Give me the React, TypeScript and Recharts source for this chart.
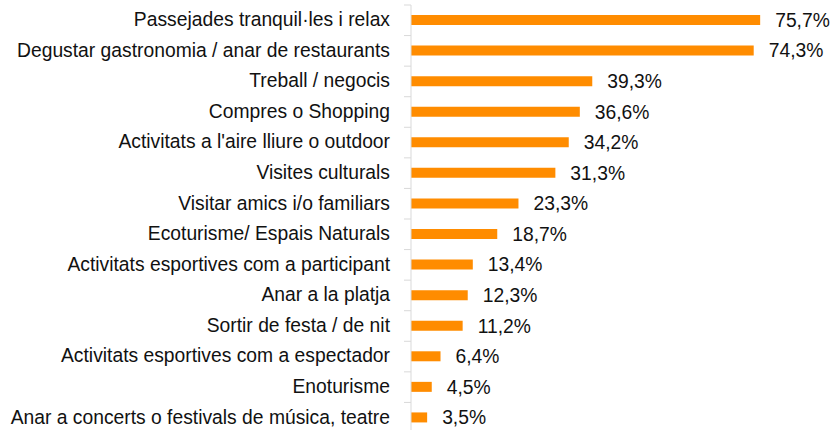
import { Bar, BarChart, LabelList, XAxis, YAxis } from "recharts";

const categories = [
  "Passejades tranquil·les i relax",
  "Degustar gastronomia / anar de restaurants",
  "Treball / negocis",
  "Compres o Shopping",
  "Activitats a l'aire lliure o outdoor",
  "Visites culturals",
  "Visitar amics i/o familiars",
  "Ecoturisme/ Espais Naturals",
  "Activitats esportives com a participant",
  "Anar a la platja",
  "Sortir de festa / de nit",
  "Activitats esportives com a espectador",
  "Enoturisme",
  "Anar a concerts o festivals de música, teatre",
];

const percentages = [75.7, 74.3, 39.3, 36.6, 34.2, 31.3, 23.3, 18.7, 13.4, 12.3, 11.2, 6.4, 4.5, 3.5];

const data = categories.map((name, i) => ({ name, value: percentages[i] }));

const FONT = "'Liberation Sans Narrow', 'Liberation Sans', Arial, sans-serif";
const CHART_H = 440;
const MARGIN_TOP = 5;
const MARGIN_BOTTOM = 7;
const STEP = (CHART_H - MARGIN_TOP - MARGIN_BOTTOM) / categories.length;
const TICK_GAP = 21;

function CategoryTick(props: any) {
  const { x, y, payload, index } = props;
  const axisX = x + TICK_GAP;
  const last = index === categories.length - 1;
  return (
    <g>
      <line x1={axisX - 7} x2={axisX} y1={y - STEP / 2} y2={y - STEP / 2} stroke="#d9d9d9" />
      {last && <line x1={axisX - 7} x2={axisX} y1={y + STEP / 2} y2={y + STEP / 2} stroke="#d9d9d9" />}
      <text x={x} y={y} dy="0.3em" textAnchor="end" fill="#111" fontSize={19.3} fontFamily={FONT}>
        {payload.value}
      </text>
    </g>
  );
}

export default function App() {
  return (
    <div style={{ position: "absolute", left: 0, top: 0, width: 830, height: 430, overflow: "hidden", background: "#fff" }}>
      <BarChart
        width={830}
        height={CHART_H}
        data={data}
        layout="vertical"
        margin={{ top: MARGIN_TOP, right: 50, bottom: MARGIN_BOTTOM, left: 0 }}
      >
        <XAxis type="number" domain={[0, 80]} hide />
        <YAxis
          type="category"
          dataKey="name"
          width={411}
          axisLine={{ stroke: "#d9d9d9" }}
          tickLine={false}
          tickSize={0}
          tickMargin={TICK_GAP}
          tick={<CategoryTick />}
          interval={0}
        />
        <Bar dataKey="value" fill="#ff8c00" barSize={10} isAnimationActive={false}>
          <LabelList
            dataKey="value"
            position="right"
            offset={15}
            formatter={(v: any) => `${Number(v).toFixed(1).replace(".", ",")}%`}
            style={{ fill: "#111", fontSize: 19.3, fontFamily: FONT }}
          />
        </Bar>
      </BarChart>
    </div>
  );
}
